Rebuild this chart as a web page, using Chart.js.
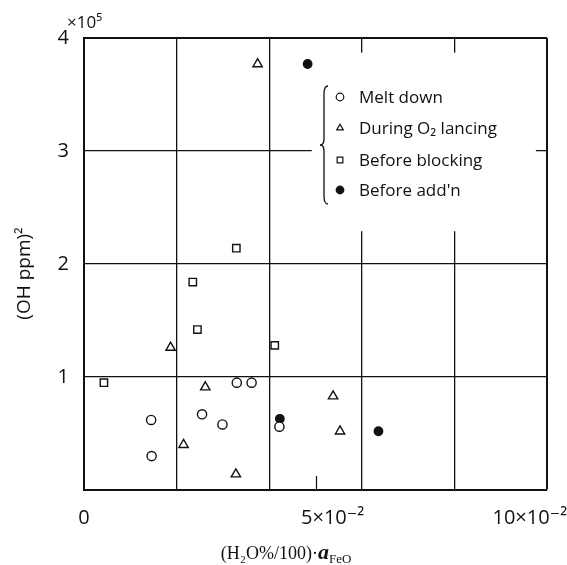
<!DOCTYPE html>
<html>
<head>
<meta charset="utf-8">
<script src="https://cdn.jsdelivr.net/npm/chart.js@4.4.1/dist/chart.umd.min.js"></script>
<style>
  html, body { margin: 0; padding: 0; background: #ffffff; }
  #wrap { width: 567px; height: 565px; }
</style>
</head>
<body>
<div id="wrap"><canvas id="chart" width="567" height="565"></canvas></div>
<script>
// x values in units of 10^-2, y values in units of 10^5
const seriesNames = ['Melt down', 'During O₂ lancing', 'Before blocking', "Before add'n"];

const meltDownX = [1.45, 1.46, 2.55, 2.99, 3.30, 3.62, 4.22];
const meltDownY = [0.62, 0.30, 0.67, 0.58, 0.95, 0.95, 0.56];

const lancingX = [3.75, 1.87, 2.62, 2.15, 3.28, 5.38, 5.53];
const lancingY = [3.77, 1.26, 0.91, 0.40, 0.14, 0.83, 0.52];

const blockingX = [3.29, 2.35, 2.45, 4.12, 0.43];
const blockingY = [2.14, 1.84, 1.42, 1.28, 0.95];

const additionX = [4.83, 4.23, 6.36];
const additionY = [3.77, 0.63, 0.52];

const xTickValues = [0, 2, 4, 5, 6, 8, 10];
const xTickLabels = { 0: '0', 5: '\u2007\u2007\u20075×10⁻²', 10: '10×10⁻²\u2007\u2007\u2007' };
const yTickValues = [0, 1, 2, 3, 4];
const yTickLabels = { 1: '1', 2: '2', 3: '3', 4: '4' };

const INK = '#111111';
const SANS = "'Open Sans', 'DejaVu Sans', sans-serif";
const SERIF = "'Liberation Serif', 'DejaVu Serif', serif";

function toPoints(xs, ys) {
  return xs.map((x, i) => ({ x: x, y: ys[i] }));
}

const markerStyles = [
  { pointStyle: 'circle',   radius: 4.6, fill: '#ffffff' },
  { pointStyle: 'triangle', radius: 5.4, fill: '#ffffff' },
  { pointStyle: 'rect',     radius: 5.2, fill: '#ffffff' },
  { pointStyle: 'circle',   radius: 4.2, fill: INK }
];

const seriesData = [
  toPoints(meltDownX, meltDownY),
  toPoints(lancingX, lancingY),
  toPoints(blockingX, blockingY),
  toPoints(additionX, additionY)
];

const datasets = seriesNames.map((name, i) => ({
  label: name,
  data: seriesData[i],
  pointStyle: markerStyles[i].pointStyle,
  pointRadius: markerStyles[i].radius,
  pointHoverRadius: markerStyles[i].radius,
  pointBackgroundColor: markerStyles[i].fill,
  pointBorderColor: INK,
  pointBorderWidth: 1.4,
  showLine: false
}));

// Blank panel behind the legend, drawn over the grid but under the points
const legendPanel = {
  id: 'legendPanel',
  beforeDatasetsDraw(chart) {
    const xs = chart.scales.x, ys = chart.scales.y;
    const ctx = chart.ctx;
    const x0 = xs.getPixelForValue(4.92), x1 = xs.getPixelForValue(9.76);
    const y0 = ys.getPixelForValue(3.87), y1 = ys.getPixelForValue(2.29);
    ctx.save();
    ctx.fillStyle = '#ffffff';
    ctx.fillRect(x0, y0, x1 - x0, y1 - y0);
    // short inner tick at 5×10^-2 on the bottom axis
    const xt = Math.round(xs.getPixelForValue(5)) + 0.5;
    ctx.strokeStyle = INK;
    ctx.lineWidth = 1.2;
    ctx.beginPath();
    ctx.moveTo(xt, chart.chartArea.bottom);
    ctx.lineTo(xt, chart.chartArea.bottom - 14);
    ctx.stroke();
    ctx.restore();
  }
};

function drawMarker(ctx, style, r, x, y) {
  ctx.beginPath();
  if (style === 'circle') {
    ctx.arc(x, y, r, 0, Math.PI * 2);
  } else if (style === 'triangle') {
    ctx.moveTo(x, y - r);
    ctx.lineTo(x + r * 0.866, y + r * 0.5);
    ctx.lineTo(x - r * 0.866, y + r * 0.5);
    ctx.closePath();
  } else {
    const s = r * 0.75;
    ctx.rect(x - s, y - s, 2 * s, 2 * s);
  }
  ctx.fill();
  ctx.stroke();
}

// Bracketed legend, axis multiplier and the x-axis title
const annotations = {
  id: 'annotations',
  afterDraw(chart) {
    const ctx = chart.ctx;
    const area = chart.chartArea;
    ctx.save();

    // legend brace
    const bx = area.left + 240, top = area.top + 48, bot = area.top + 166;
    const mid = (top + bot) / 2;
    ctx.strokeStyle = INK;
    ctx.lineWidth = 1.3;
    ctx.beginPath();
    ctx.moveTo(bx + 4, top);
    ctx.quadraticCurveTo(bx, top, bx, top + 8);
    ctx.lineTo(bx, mid - 6);
    ctx.quadraticCurveTo(bx, mid, bx - 4, mid);
    ctx.quadraticCurveTo(bx, mid, bx, mid + 6);
    ctx.lineTo(bx, bot - 8);
    ctx.quadraticCurveTo(bx, bot, bx + 4, bot);
    ctx.stroke();

    // legend rows
    const mx = area.left + 256, tx = area.left + 275;
    const rowY = [area.top + 59, area.top + 90, area.top + 122, area.top + 152];
    ctx.font = "17px " + SANS;
    ctx.textBaseline = 'middle';
    ctx.textAlign = 'left';
    seriesNames.forEach((name, i) => {
      ctx.fillStyle = markerStyles[i].fill;
      ctx.strokeStyle = INK;
      ctx.lineWidth = 1.2;
      drawMarker(ctx, markerStyles[i].pointStyle, 3.8, mx, rowY[i]);
      ctx.fillStyle = INK;
      ctx.fillText(name, tx, rowY[i] + 1);
    });

    // multiplier for the y axis
    ctx.textBaseline = 'alphabetic';
    ctx.font = "17px " + SANS;
    ctx.fillText('×10⁵', area.left - 17, area.top - 10);

    // x-axis title: (H2O%/100)·a_FeO
    const baseY = 559;
    const parts = [
      { t: '(H₂O%/100)·', font: "18px " + SERIF, dy: 0 },
      { t: 'a', font: "italic bold 22px " + SERIF, dy: 0 },
      { t: 'FeO', font: "13px " + SERIF, dy: 4 }
    ];
    let total = 0;
    parts.forEach(p => { ctx.font = p.font; p.w = ctx.measureText(p.t).width; total += p.w; });
    let x = 286 - total / 2;
    parts.forEach(p => {
      ctx.font = p.font;
      ctx.fillText(p.t, x, baseY + p.dy);
      x += p.w;
    });
    ctx.restore();
  }
};

new Chart(document.getElementById('chart'), {
  type: 'scatter',
  data: { datasets: datasets },
  options: {
    responsive: false,
    devicePixelRatio: 1,
    animation: false,
    events: [],
    layout: { padding: { top: 38, right: 20, bottom: 0, left: 0 } },
    plugins: {
      legend: { display: false },
      tooltip: { enabled: false },
      title: { display: false }
    },
    scales: {
      x: {
        type: 'linear',
        min: 0,
        max: 10,
        afterBuildTicks: s => { s.ticks = xTickValues.map(v => ({ value: v })); },
        afterFit: s => { s.height = 75; s.paddingLeft = 0; s.paddingRight = 0; },
        grid: {
          drawTicks: false,
          color: c => (c.tick && c.tick.value === 5) ? 'rgba(0,0,0,0)' : INK,
          lineWidth: c => (c.tick && c.tick.value === 10) ? 2 : 1.3
        },
        border: { color: INK, width: 2 },
        ticks: {
          autoSkip: false,
          maxRotation: 0,
          padding: 16,
          color: INK,
          font: { size: 20, family: SANS },
          callback: v => xTickLabels[v] || ''
        }
      },
      y: {
        type: 'linear',
        min: 0,
        max: 4,
        afterBuildTicks: s => { s.ticks = yTickValues.map(v => ({ value: v })); },
        afterFit: s => { s.width = 84; },
        grid: {
          drawTicks: false,
          color: INK,
          lineWidth: c => (c.tick && c.tick.value === 4) ? 2 : 1.3
        },
        border: { color: INK, width: 2 },
        ticks: {
          padding: 15,
          color: INK,
          font: { size: 20, family: SANS },
          callback: v => yTickLabels[v] || ''
        },
        title: {
          display: true,
          text: '(OH ppm)²\u2003',
          color: INK,
          font: { size: 19, family: SANS },
          padding: { top: 13, bottom: 0 }
        }
      }
    }
  },
  plugins: [legendPanel, annotations]
});
</script>
</body>
</html>
